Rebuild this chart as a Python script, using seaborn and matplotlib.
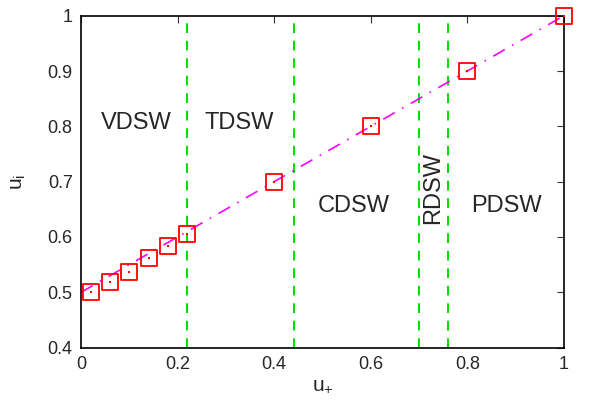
import pandas as pd
import matplotlib
matplotlib.use("Agg")
import matplotlib.pyplot as plt
import seaborn as sns

# numerical points
u_plus = [0.02, 0.06, 0.10, 0.14, 0.18, 0.22, 0.40, 0.60, 0.80, 1.00]
u_i = [0.500, 0.518, 0.536, 0.562, 0.583, 0.606, 0.700, 0.800, 0.900, 1.000]

# theory line u_i = (1 + u_+) / 2
theory_x = [0.0, 1.0]
theory_y = [0.5, 1.0]

# regime boundaries
boundaries = [0.22, 0.44, 0.70, 0.76]

regions = ["VDSW", "TDSW", "CDSW", "RDSW", "PDSW"]
region_x = [0.114, 0.327, 0.564, 0.729, 0.881]
region_y = [0.806, 0.806, 0.656, 0.688, 0.656]
region_rot = [0, 0, 0, 90, 0]

sns.set_style("white")
plt.rcParams['font.family'] = ['Liberation Sans', 'DejaVu Sans']
plt.rcParams['mathtext.fontset'] = 'custom'
plt.rcParams['mathtext.rm'] = 'Liberation Sans'
plt.rcParams['mathtext.it'] = 'Liberation Sans'

fig = plt.figure(figsize=(5.93, 4.15), dpi=100)
ax = fig.add_axes([0.1366, 0.1624, 0.8145, 0.7998])

for b in boundaries:
    ax.axvline(b, color='#00e000', lw=1.4, dashes=(5, 4))

df_th = pd.DataFrame({'x': theory_x, 'y': theory_y})
sns.lineplot(data=df_th, x='x', y='y', ax=ax, color='#ff00ff', lw=1.2,
             dashes=False, legend=False)
ax.lines[-1].set_dashes((8, 5, 1, 5))

df = pd.DataFrame({'x': u_plus, 'y': u_i})
sns.scatterplot(data=df, x='x', y='y', ax=ax, marker='s', s=130,
                facecolor='none', edgecolor='#ff0000', linewidth=1.3,
                zorder=5, clip_on=False)
sns.scatterplot(data=df, x='x', y='y', ax=ax, marker='s', s=2,
                color='#ff0000', linewidth=0, zorder=5, clip_on=False)

for name, x, y, r in zip(regions, region_x, region_y, region_rot):
    ax.text(x, y, name, fontsize=17, ha='center', va='center', rotation=r)

ax.set_xlim(0, 1)
ax.set_ylim(0.4, 1)
ax.set_xticks([0, 0.2, 0.4, 0.6, 0.8, 1])
ax.set_xticklabels(['0', '0.2', '0.4', '0.6', '0.8', '1'])
ax.set_yticks([0.4, 0.5, 0.6, 0.7, 0.8, 0.9, 1])
ax.set_yticklabels(['0.4', '0.5', '0.6', '0.7', '0.8', '0.9', '1'])
ax.tick_params(direction='in', length=5, width=0.8, labelsize=13,
               top=True, right=True, pad=6, color='#333333')
for s in ax.spines.values():
    s.set_linewidth(1.2)
    s.set_color('black')
ax.set_xlabel('u$_{+}$', fontsize=15, labelpad=2)
ax.set_ylabel('u$_{\\mathrm{i}}$', fontsize=15, labelpad=14)

fig.savefig('out.png', dpi=100)
